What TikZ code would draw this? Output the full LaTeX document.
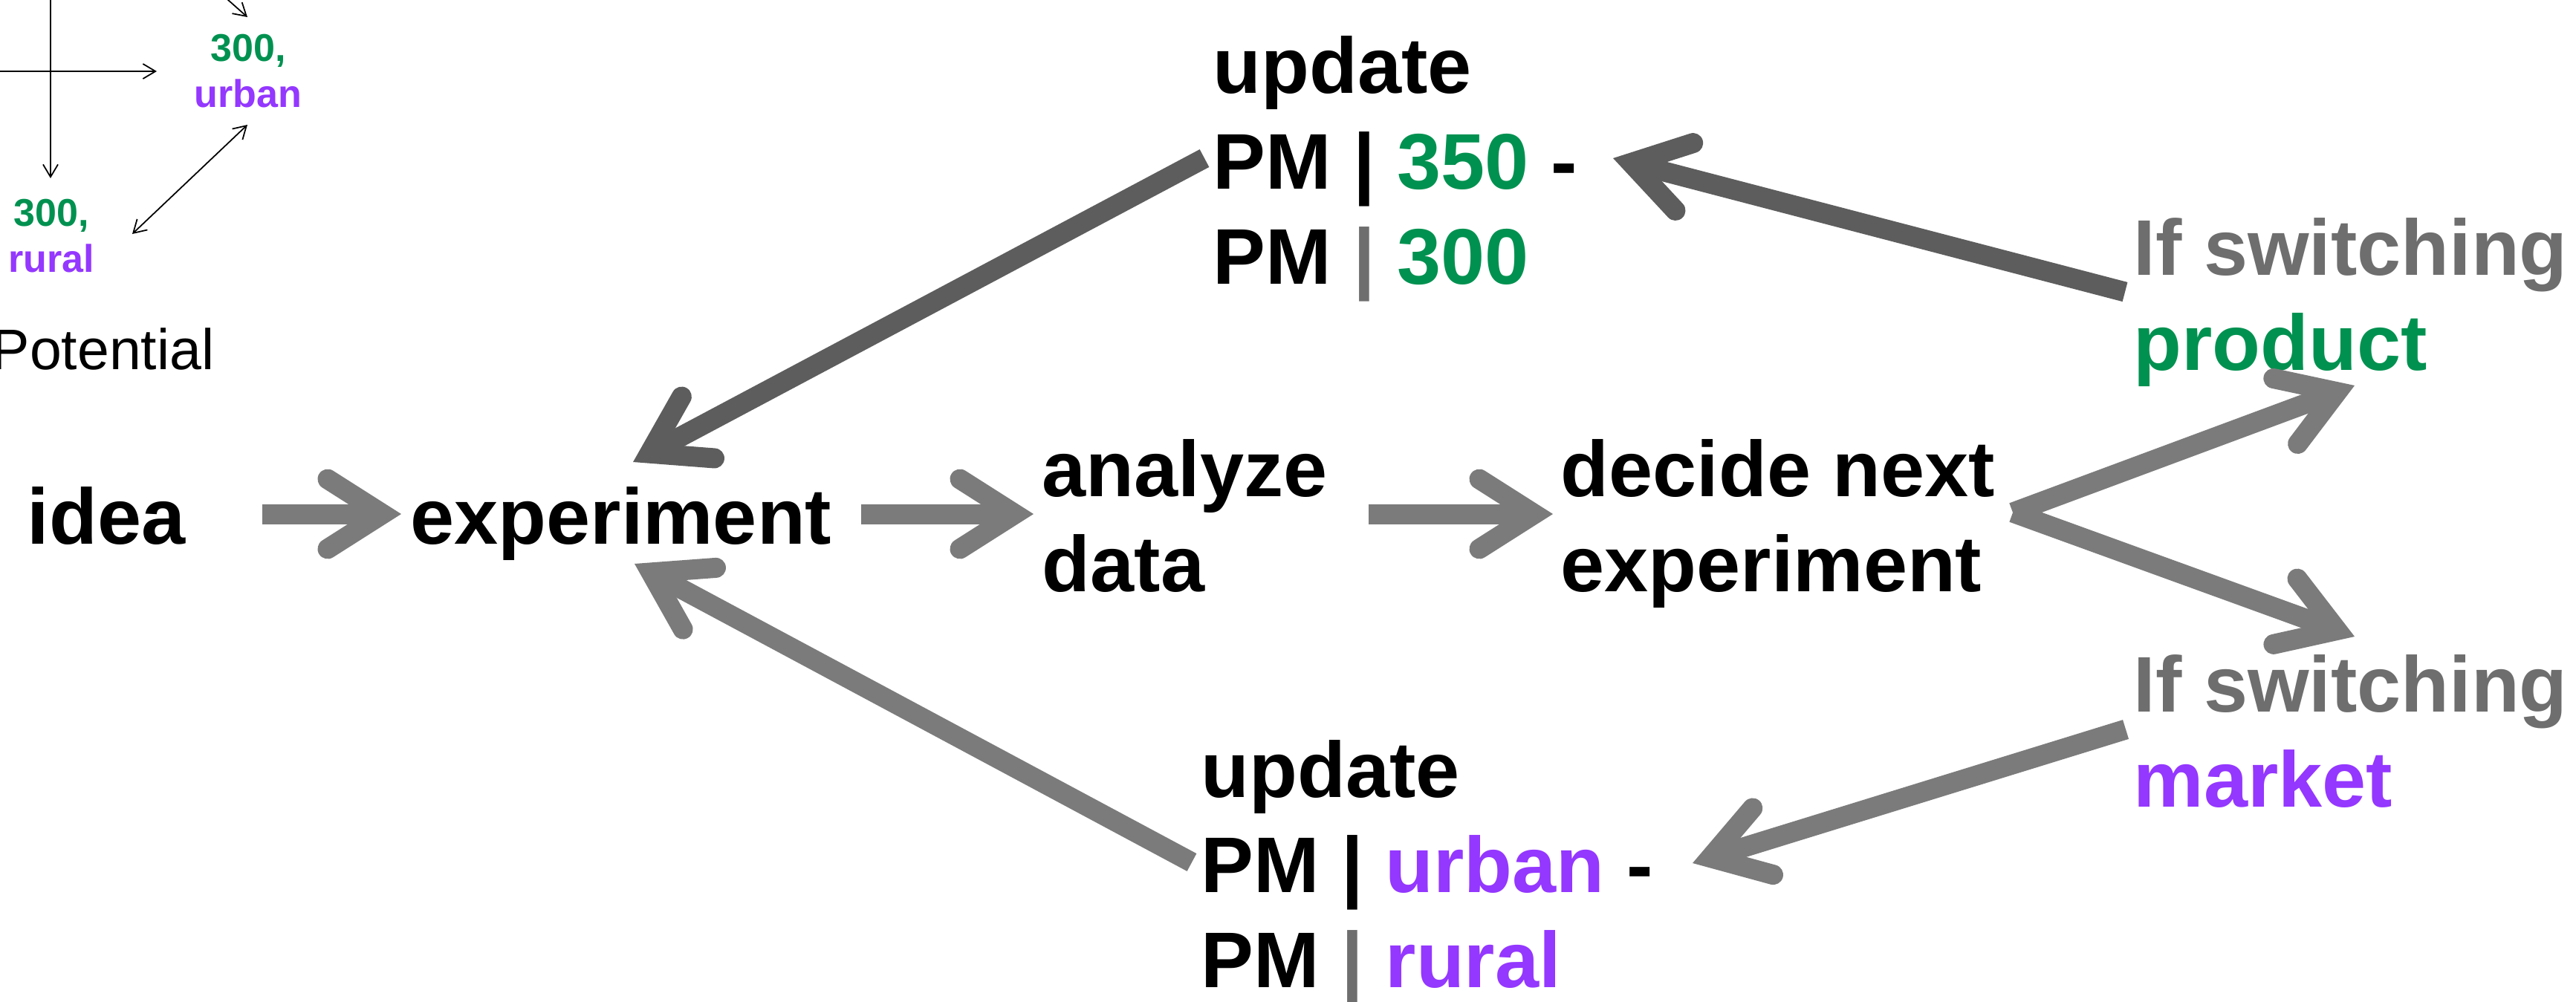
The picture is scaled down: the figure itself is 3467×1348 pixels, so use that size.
\documentclass[tikz,border=0pt]{standalone}
\usepackage{fontspec}
\setmainfont{Liberation Sans}
\usetikzlibrary{arrows.meta}
\definecolor{grn}{RGB}{0,145,80}
\definecolor{prp}{RGB}{148,55,255}
\definecolor{txtgray}{RGB}{110,110,110}
\definecolor{arrlight}{RGB}{123,123,123}
\definecolor{arrdark}{RGB}{93,93,93}
\begin{document}
\begin{tikzpicture}[x=0.01cm,y=-0.01cm,
  bigtext/.style={font=\bfseries\fontsize{30.2}{36.4}\selectfont, inner sep=0pt, align=left, anchor=base west},
  smalltext/.style={font=\bfseries\fontsize{14.8}{17.6}\selectfont, inner sep=0pt, align=center, anchor=base},
  flowarrow/.style={line width=7.68pt, draw=arrlight, -{Straight Barb[length=21pt,width=26.7pt,line cap=round]}},
  flowdark/.style={flowarrow, draw=arrdark},
  axisarrow/.style={line width=0.5pt, draw=black, -{Straight Barb[length=4.8pt,width=5.7pt]}}
]
\useasboundingbox (0,0) rectangle (3467,1348);
\clip (0,0) rectangle (3467,1348);

% small sketch top-left (anchor = baseline of the last line)
\node[smalltext] (urb) at (334,144) {\textcolor{grn}{300,}\\\textcolor{prp}{urban}};
\node[smalltext] (rur) at (69,366) {\textcolor{grn}{300,}\\\textcolor{prp}{rural}};
\node[font=\fontsize{21.9}{26}\selectfont, inner sep=0pt, anchor=base west] (pot) at (-12,497) {Potential};
\coordinate (vtop) at (68,-10);
\coordinate (vbot) at (68,240);
\coordinate (hl) at (-10,96);
\coordinate (hr) at (211,96);
\coordinate (dgs) at (280,-24);
\coordinate (dge) at (333,23);
\coordinate (dba) at (178,315);
\coordinate (dbb) at (333,168);
\draw[axisarrow] (vtop) -- (vbot);
\draw[axisarrow] (hl) -- (hr);
\draw[axisarrow] (dgs) -- (dge);
\draw[axisarrow, {Straight Barb[length=4.8pt,width=5.7pt]}-{Straight Barb[length=4.8pt,width=5.7pt]}] (dba) -- (dbb);

% main text (anchor = baseline of the last line)
\node[bigtext] (idea) at (36,732) {idea};
\node[bigtext] (exp) at (552,732) {experiment};
\node[bigtext] (ana) at (1402,796) {analyze\\data};
\node[bigtext] (dec) at (2100,796) {decide next\\experiment};
\node[bigtext] (upa) at (1632,382) {update\\PM | \textcolor{grn}{350} -\\PM \textcolor{txtgray}{|} \textcolor{grn}{300}};
\node[bigtext] (upb) at (1616,1329) {update\\PM | \textcolor{prp}{urban} -\\PM \textcolor{txtgray}{|} \textcolor{prp}{rural}};
\node[bigtext, text=txtgray] (swa) at (2871,498) {If switching\\\textcolor{grn}{product}};
\node[bigtext, text=txtgray] (swb) at (2871,1086) {If switching\\\textcolor{prp}{market}};

% arrow end points
\coordinate (ideaout) at (353,692);
\coordinate (expin) at (540,692);
\coordinate (expout) at (1159,692);
\coordinate (anain) at (1391,692);
\coordinate (anaout) at (1842,692);
\coordinate (decin) at (2090,692);
\coordinate (decout) at (2709,690);
\coordinate (swain) at (3169,519);
\coordinate (swbin) at (3169,857);
\coordinate (swaout) at (2860,393);
\coordinate (upain) at (2171,213);
\coordinate (upaout) at (1621,213);
\coordinate (exptop) at (852,622);
\coordinate (swbout) at (2861,982);
\coordinate (upbin) at (2278,1162);
\coordinate (upbout) at (1604,1161);
\coordinate (expbot) at (854,759);

\draw[flowarrow] (ideaout) -- (expin);
\draw[flowarrow] (expout) -- (anain);
\draw[flowarrow] (anaout) -- (decin);
\draw[flowarrow] (decout) -- (swain);
\draw[flowarrow] (decout) -- (swbin);
\draw[flowdark] (swaout) -- (upain);
\draw[flowdark] (upaout) -- (exptop);
\draw[flowarrow] (swbout) -- (upbin);
\draw[flowarrow] (upbout) -- (expbot);
\end{tikzpicture}
\end{document}
